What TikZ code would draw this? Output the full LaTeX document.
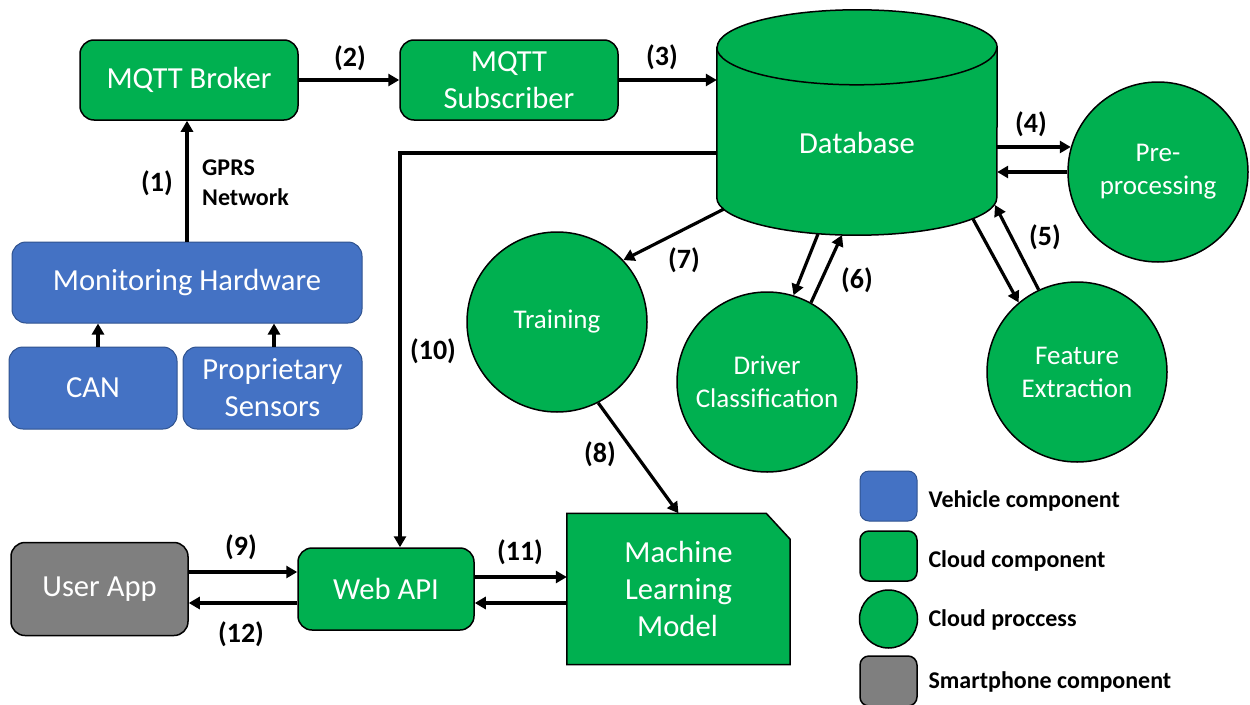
\documentclass[tikz,border=0pt]{standalone}
\usepackage{fontspec}
\setmainfont{Carlito}
\usetikzlibrary{arrows.meta,calc,backgrounds}
\definecolor{cgreen}{HTML}{00B050}
\definecolor{cblue}{HTML}{4472C4}
\definecolor{cblueb}{HTML}{2F528F}
\definecolor{cgray}{HTML}{7F7F7F}
\begin{document}
\begin{tikzpicture}[x=1pt,y=-1pt,
 box/.style={rectangle, rounded corners=14pt, draw=black, line width=1.5pt, fill=cgreen, text=white, align=center, font=\fontsize{30.6}{37}\selectfont, inner sep=0pt},
 vbox/.style={box, fill=cblue, draw=cblueb, line width=1pt},
 gbox/.style={box, fill=cgray},
 proc/.style={circle, draw=black, line width=1.5pt, fill=cgreen, text=white, align=center, font=\fontsize{27}{33}\selectfont, minimum size=180pt, inner sep=0pt},
 arr/.style={line width=3.2pt, -{Triangle[length=11pt,width=12pt]}},
 lab/.style={font=\bfseries\fontsize{28}{30}\selectfont},
 legt/.style={font=\bfseries\fontsize{24}{28}\selectfont, anchor=west}]
\useasboundingbox (0,0) rectangle (1250,704);

% vehicle side
\node[box, minimum width=218pt, minimum height=80pt] (broker) at (189,80) {MQTT Broker};
\node[box, minimum width=218pt, minimum height=80pt] (sub) at (509,80) {MQTT\\Subscriber};
\node[vbox, minimum width=350pt, minimum height=81pt] (mh) at (187,282.5) {Monitoring Hardware};
\node[vbox, minimum width=168pt, minimum height=82pt] (can) at (93,388) {CAN};
\node[vbox, minimum width=179pt, minimum height=82pt] (ps) at (272.5,388) {Proprietary\\Sensors};

% database
\node[minimum width=280pt, minimum height=225pt, inner sep=0pt] (db) at (857,122.5) {};
\node[text=white, font=\fontsize{30.6}{37}\selectfont] (dbtext) at (857,143) {Database};
\begin{scope}[on background layer]
\filldraw[fill=cgreen, draw=black, line width=1.5pt]
  ($(db.north west)+(0,37.5)$) -- ($(db.south west)+(0,-37.5)$)
  arc[start angle=180, end angle=0, x radius=140, y radius=37.5]
  -- ($(db.north east)+(0,37.5)$)
  arc[start angle=0, end angle=-180, x radius=140, y radius=37.5] -- cycle;
\draw[line width=1.5pt] ($(db.north west)+(0,37.5)$) arc[start angle=180, end angle=0, x radius=140, y radius=37.5];
\end{scope}

% processes
\node[proc] (pre) at (1158,172) {\raisebox{-4pt}{Pre-}\\\raisebox{-4pt}{processing}};
\node[proc] (fe) at (1077,372) {Feature\\Extraction};
\node[proc] (dc) at (767,382) {Driver\\Classification};
\node[proc] (tr) at (557,322) {\raisebox{-2pt}{Training}};

% ML model
\node[minimum width=223pt, minimum height=151pt, inner sep=0pt, text=white, align=center, font=\fontsize{30.6}{37}\selectfont] (ml) at (678.5,589) {Machine\\Learning\\Model\hspace*{2pt}};
\begin{scope}[on background layer]
\filldraw[fill=cgreen, draw=black, line width=1.5pt]
  (ml.north west) -- ($(ml.north east)+(-24,0)$) -- ($(ml.north east)+(0,26)$) -- (ml.south east) -- (ml.south west) -- cycle;
\end{scope}

\node[box, minimum width=176pt, minimum height=82pt] (web) at (386,589) {Web API};
\node[gbox, minimum width=177pt, minimum height=93pt] (user) at (99.5,589) {User App};

% db-side coordinates
\coordinate (d7) at (724,209);
\coordinate (d6a) at (818,234);
\coordinate (d6b) at (842,235);
\coordinate (d5a) at (973,219);
\coordinate (d5b) at (995,205);

% connectors
\draw[arr] (can.north -| 98,0) -- (mh.south -| 98,0);
\draw[arr] (ps.north -| 274,0) -- (mh.south -| 274,0);
\draw[arr] (mh.north) -- (mh.north |- broker.south);
\draw[arr] (broker.east) -- (sub.west);
\draw[arr] (sub.east) -- (sub.east -| db.west);
\draw[arr] (pre.164.5 -| db.east) -- (pre.164.5);
\draw[arr] (pre.west) -- (pre.west -| db.east);
\draw[arr] (d5a) -- (fe.130.6);
\draw[arr] (fe.115.5) -- (d5b);
\draw[arr] (d6a) -- (dc.73.9);
\draw[arr] (dc.61.2) -- (d6b);
\draw[arr] (d7) -- (tr.43.7);
\draw[arr] (tr.-63.7) -- (ml.north);
\draw[arr] ([yshift=-30.5pt]db.west) -| ([xshift=14pt]web.north);
\draw[arr] ([yshift=17pt]user.east) -- ([yshift=17pt]web.west);
\draw[arr] ([yshift=-14pt]web.west) -- ([yshift=-14pt]user.east);
\draw[arr] ([yshift=12pt]web.east) -- ([yshift=12pt]ml.west);
\draw[arr] ([yshift=-14pt]ml.west) -- ([yshift=-14pt]web.east);

% labels
\node[lab] (l1) at (157,183) {(1)};
\node[font=\bfseries\fontsize{24}{30}\selectfont, align=left, anchor=west, inner sep=0pt] (gprs) at (202,183) {GPRS\\Network};
\node[lab] (l2) at (350,58) {(2)};
\node[lab] (l3) at (662,57) {(3)};
\node[lab] (l4) at (1031,124) {(4)};
\node[lab] (l5) at (1045,237) {(5)};
\node[lab] (l6) at (857,280) {(6)};
\node[lab] (l7) at (684,260) {(7)};
\node[lab] (l8) at (600,454) {(8)};
\node[lab] (l9) at (241,547) {(9)};
\node[lab] (l10) at (433,351) {(10)};
\node[lab] (l11) at (520,552) {(11)};
\node[lab] (l12) at (241,634) {(12)};

% legend
\node[vbox, rounded corners=9pt, minimum width=57pt, minimum height=50pt] (lgb) at (888.5,496) {};
\node[box, rounded corners=9pt, minimum width=57pt, minimum height=50pt] (lgg) at (888.5,556) {};
\node[proc, minimum size=58pt] (lgc) at (888.5,619) {};
\node[gbox, rounded corners=9pt, minimum width=57pt, minimum height=50pt] (lgy) at (888.5,681) {};
\node[legt] (t1) at (925,501) {Vehicle component};
\node[legt] (t2) at (925,561) {Cloud component};
\node[legt] (t3) at (925,620) {Cloud proccess};
\node[legt] (t4) at (925,682) {Smartphone component};
\end{tikzpicture}
\end{document}
